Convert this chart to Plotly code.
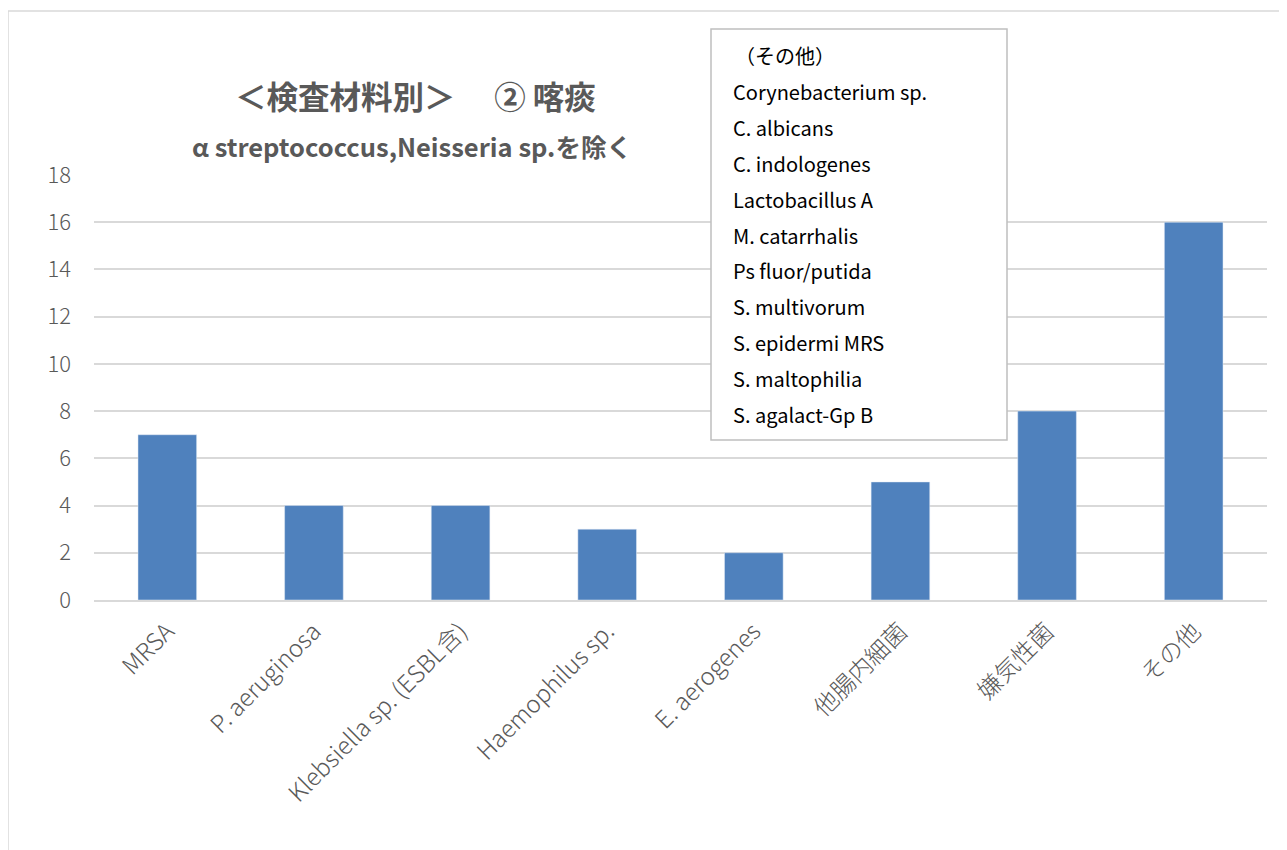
import plotly.graph_objects as go

categories = ["MRSA", "P. aeruginosa", "Klebsiella sp. (ESBL含)", "Haemophilus sp.",
              "E. aerogenes", "他腸内細菌", "嫌気性菌", "その他"]
values = [7, 4, 4, 3, 2, 5, 8, 16]
y_ticks = [0, 2, 4, 6, 8, 10, 12, 14, 16, 18]
title_text = "＜検査材料別＞　 ② 喀痰"
subtitle_text = "α streptococcus,Neisseria sp.を除く"
box_lines = ["（その他）", "Corynebacterium sp.", "C. albicans", "C. indologenes",
             "Lactobacillus A", "M. catarrhalis", "Ps fluor/putida", "S. multivorum",
             "S. epidermi MRS", "S. maltophilia", "S. agalact-Gp B"]

W, H = 1287, 850
OFF = 8  # page body margin
L = 94 - OFF
T = 175 - OFF
R = W - (1267 - OFF)
B = H - (600 - OFF)
pw, ph = W - L - R, H - T - B

def px(x):
    return (x - OFF - L) / pw

def py(y):
    return (H - B - (y - OFF)) / ph

FONT = "Noto Sans CJK JP, Noto Sans, sans-serif"
GRAY = "#595959"

fig = go.Figure(go.Bar(x=categories, y=values, marker_color="#4F81BD", width=0.4))

shapes = [
    dict(type="line", xref="paper", yref="paper", x0=px(0), x1=px(W + 10), y0=py(3), y1=py(3),
         line=dict(color="#D9D9D9", width=2)),
    dict(type="rect", xref="paper", yref="paper", x0=px(8), x1=px(W + 10), y0=py(11), y1=py(H + 10),
         line=dict(color="#D9D9D9", width=1.5)),
    dict(type="rect", xref="paper", yref="paper", x0=px(711), x1=px(1007), y0=py(29), y1=py(440),
         line=dict(color="#BFBFBF", width=1.5), fillcolor="white", layer="above"),
]

annotations = [
    dict(text="<b>" + title_text + "</b>", xref="paper", yref="paper", x=px(415), y=py(95),
         showarrow=False, font=dict(size=31.5, color=GRAY, family=FONT), xanchor="center", yanchor="middle"),
    dict(text="<b>" + subtitle_text + "</b>", xref="paper", yref="paper", x=px(412), y=py(145),
         showarrow=False, font=dict(size=25.5, color=GRAY, family=FONT), xanchor="center", yanchor="middle"),
]
for i, line in enumerate(box_lines):
    annotations.append(dict(text=line, xref="paper", yref="paper",
                            x=px(731 if i else 733), y=py(56 + 35.8 * i),
                            showarrow=False, xanchor="left", yanchor="middle",
                            font=dict(size=20, color="#000000", family=FONT)))

fig.update_layout(
    width=W, height=H,
    margin=dict(l=L, r=R, t=T, b=B, autoexpand=False),
    paper_bgcolor="white", plot_bgcolor="white",
    showlegend=False,
    font=dict(family=FONT, color=GRAY, size=18),
    shapes=shapes, annotations=annotations,
    bargap=0.6,
    xaxis=dict(tickangle=-45, tickfont=dict(size=24, color=GRAY, weight=300), showline=True,
               linecolor="#D9D9D9", linewidth=1.5, ticks="", showgrid=False,
               ticklabelstandoff=6),
    yaxis=dict(range=[0, 18], tickvals=y_ticks, tickfont=dict(size=22, color=GRAY, weight=300),
               showgrid=True, gridcolor="#D9D9D9", gridwidth=1.5, zeroline=False,
               ticks="", ticklabelstandoff=22, showline=False),
)

fig.write_html("out.html")
